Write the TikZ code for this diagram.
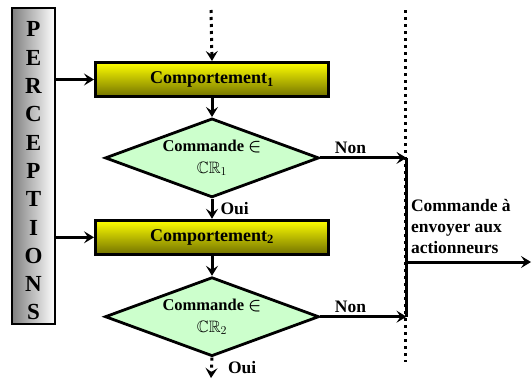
\documentclass[tikz,border=0pt]{standalone}
\usepackage{amsmath}
\usepackage{amssymb}
\usepackage{fontspec}
\setmainfont{Liberation Serif}
\usetikzlibrary{positioning, arrows.meta, shapes.geometric}
\definecolor{comptop}{HTML}{FFFF00}
\definecolor{compbot}{HTML}{727200}
\definecolor{testfill}{HTML}{CCFFCC}
\definecolor{percdark}{HTML}{7F7F7F}
\tikzset{
  comp/.style={draw=black, line width=3pt, top color=comptop, bottom color=compbot,
    font=\fontsize{18}{21}\selectfont\bfseries, minimum width=233pt, minimum height=34pt, inner sep=0pt},
  test/.style={diamond, draw=black, line width=2.8pt, fill=testfill, aspect=2.67,
    minimum width=214pt, minimum height=79pt, inner sep=0pt, align=center,
    font=\fontsize{16.5}{22}\selectfont\bfseries},
  perc/.style={draw=black, line width=2.5pt, left color=percdark, right color=white,
    minimum width=43pt, minimum height=316pt, inner sep=0pt},
  perctext/.style={align=center, inner sep=0pt, font=\fontsize{23}{28.3}\selectfont\bfseries},
  flow/.style={-{Stealth[length=10pt, width=12pt, inset=4pt]}, line width=3pt},
  flowd/.style={flow, dash pattern=on 3pt off 4pt},
  rail/.style={line width=3pt, dash pattern=on 3pt off 4pt},
  lbl/.style={font=\fontsize{17.5}{21}\selectfont\bfseries, inner sep=3pt},
}
\begin{document}
\begin{tikzpicture}[x=1pt, y=-1pt]
  \useasboundingbox (0,0) rectangle (532,381);
  % chaine des comportements
  \node[comp] (comp1) at (212,79.5) {Comportement\textsubscript{1}};
  \node[test, below=19pt of comp1] (test1) {Commande $\boldsymbol{\in}$\\ \mdseries$\mathbb{CR}_1$};
  \node[comp, below=20pt of test1] (comp2) {Comportement\textsubscript{2}};
  \node[test, below=20pt of comp2] (test2) {Commande $\boldsymbol{\in}$\\ \mdseries$\mathbb{CR}_2$};
  \node[perc] (perc) at (33.5,166) {};
  \node[perctext] (perclbl) at ([yshift=-5pt]perc.center) {P\\E\\R\\C\\E\\P\\T\\I\\O\\N\\S};
  % bus de sortie
  \coordinate (in) at (211,10);
  \coordinate (next) at (211,378);
  \coordinate (railtop) at (405,10);
  \coordinate (railbot) at (405,362);
  \coordinate (bus) at (406.5,262);
  \coordinate (out) at (531,262);
  \draw[rail] (railtop) -- (railbot);
  \draw[flowd] (in) -- (comp1.north);
  \draw[flow] (comp1) -- (test1);
  \draw[flow] (test1) -- node[lbl, right=4pt]{Oui} (comp2);
  \draw[flow] (comp2) -- (test2);
  \draw[flowd] (test2.south) -- node[lbl, right=12pt]{Oui} (next);
  \draw[flow] (perc.east |- comp1) -- (comp1.west);
  \draw[flow] (perc.east |- comp2) -- (comp2.west);
  \draw[flow] (test1.east) -- node[lbl, above, pos=0.35]{Non} (test1.east -| bus);
  \draw[flow] (test2.east) -- node[lbl, above, pos=0.35]{Non} (test2.east -| bus);
  \draw[line width=3pt] (test1.east -| bus) -- (test2.east -| bus);
  \draw[flow] (bus) -- node[lbl, pos=0, anchor=south west, align=left, yshift=4pt]{Commande à\\envoyer aux\\actionneurs} (out);
\end{tikzpicture}
\end{document}
